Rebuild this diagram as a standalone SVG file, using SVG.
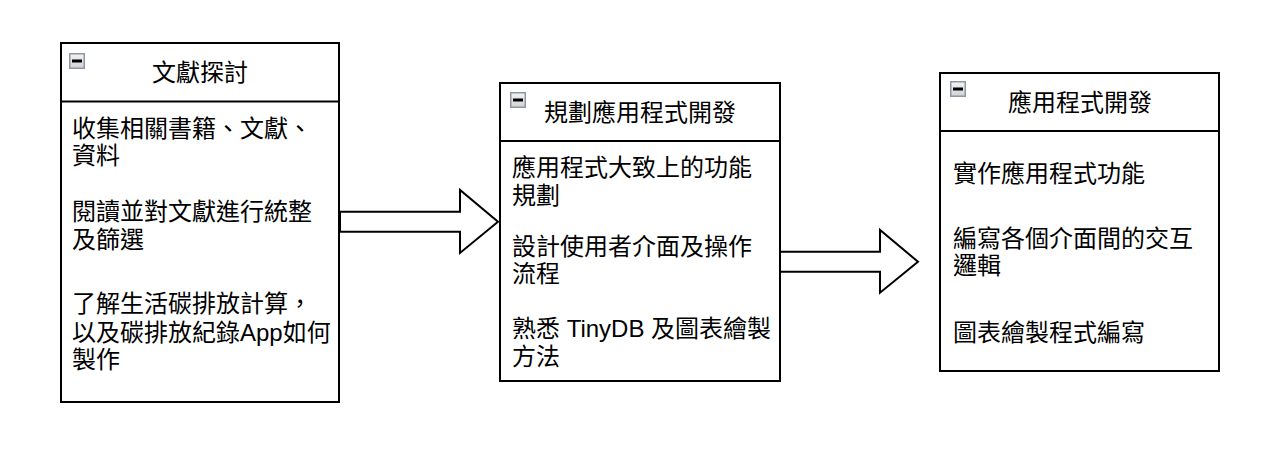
<svg xmlns="http://www.w3.org/2000/svg" width="1275" height="472" viewBox="0 0 1275 472">
<defs>
<linearGradient id="ig" x1="0" y1="0" x2="0" y2="1">
<stop offset="0" stop-color="#f4f4f4"/>
<stop offset="1" stop-color="#d2d2d2"/>
</linearGradient>
<g id="icon">
<rect x="0.75" y="0.75" width="14.5" height="14.5" fill="url(#ig)" stroke="#8f96a3" stroke-width="1.5"/>
<rect x="3" y="6.5" width="10" height="3" fill="#000"/>
</g>
</defs>
<style>
.box{fill:#fff;stroke:#000;stroke-width:2}
.sep{stroke:#000;stroke-width:2}
.arrow{fill:#fff;stroke:#000;stroke-width:2;stroke-linejoin:miter}
text{font-family:"Liberation Sans","Noto Sans CJK TC",sans-serif;font-size:24px;fill:#000}
.title{text-anchor:middle}
</style>
<rect width="1275" height="472" fill="#fff"/>
<g id="connectors">
<polygon class="arrow" points="340,211.7 460,211.7 460,190 498,221.7 460,253 460,231.7 340,231.7"/>
<polygon class="arrow" points="780,251.7 880,251.7 880,230 918,261.7 880,292.7 880,271.7 780,271.7"/>
</g>
<g id="node1">
<rect class="box" x="61" y="43" width="278" height="359"/>
<line class="sep" x1="61" y1="101.5" x2="339" y2="101.5"/>
<use href="#icon" x="69" y="53"/>
<text class="title" x="200" y="81">文獻探討</text>
<text x="72" y="136.5">收集相關書籍、文獻、</text>
<text x="72" y="164">資料</text>
<text x="72" y="220">閱讀並對文獻進行統整</text>
<text x="72" y="247.5">及篩選</text>
<text x="72" y="312">了解生活碳排放計算，</text>
<text x="72" y="340.5">以及碳排放紀錄App如何</text>
<text x="72" y="368">製作</text>
</g>
<g id="node2">
<rect class="box" x="500" y="83" width="280" height="298"/>
<line class="sep" x1="500" y1="141" x2="780" y2="141"/>
<use href="#icon" x="510" y="92"/>
<text class="title" x="640" y="121">規劃應用程式開發</text>
<text x="512" y="176">應用程式大致上的功能</text>
<text x="512" y="204">規劃</text>
<text x="512" y="255">設計使用者介面及操作</text>
<text x="512" y="282">流程</text>
<text x="512" y="337">熟悉 TinyDB 及圖表繪製</text>
<text x="512" y="365">方法</text>
</g>
<g id="node3">
<rect class="box" x="940" y="73" width="279" height="298"/>
<line class="sep" x1="940" y1="131" x2="1219" y2="131"/>
<use href="#icon" x="950" y="81"/>
<text class="title" x="1080" y="111">應用程式開發</text>
<text x="953" y="182">實作應用程式功能</text>
<text x="953" y="246.5">編寫各個介面間的交互</text>
<text x="953" y="274">邏輯</text>
<text x="953" y="340.5">圖表繪製程式編寫</text>
</g>
</svg>
